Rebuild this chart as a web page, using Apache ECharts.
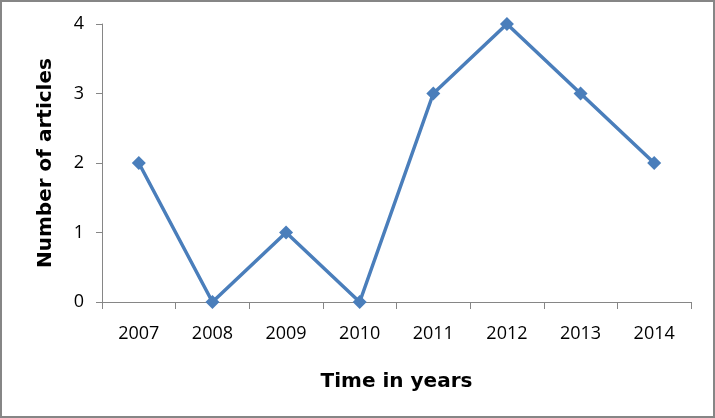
<!DOCTYPE html>
<html><head><meta charset="utf-8">
<script src="https://cdn.jsdelivr.net/npm/echarts@6/dist/echarts.min.js"></script>
<style>html,body{margin:0;padding:0;background:#fff}#c{width:715px;height:418px;box-sizing:border-box;border:2px solid #868686}</style>
</head><body><div id="c"></div>
<script>
const years = ['2007','2008','2009','2010','2011','2012','2013','2014'];
const articles = [2,0,1,0,3,4,3,2];
const yTicks = [0,1,2,3,4];
const chart = echarts.init(document.getElementById('c'));
chart.setOption({
  animation:false,
  grid:{left:100,right:22,top:22,bottom:114},
  xAxis:{type:'category',data:years,boundaryGap:true,
    name:'Time in years',nameLocation:'middle',nameGap:70,
    nameTextStyle:{fontFamily:'DejaVu Sans',fontWeight:'bold',fontSize:20,color:'#000'},
    axisLine:{lineStyle:{color:'#868686',width:1}},
    axisTick:{show:true,length:7,alignWithLabel:false,lineStyle:{color:'#868686'}},
    axisLabel:{fontFamily:'Open Sans',fontSize:18,color:'#000',margin:23}},
  yAxis:{type:'value',min:yTicks[0],max:yTicks[yTicks.length-1],interval:1,
    name:'Number of articles',nameLocation:'middle',nameGap:46,nameRotate:90,
    nameTextStyle:{fontFamily:'DejaVu Sans',fontWeight:'bold',fontSize:20,color:'#000'},
    axisLine:{show:true,lineStyle:{color:'#868686',width:1}},
    axisTick:{show:true,length:6,lineStyle:{color:'#868686'}},
    splitLine:{show:false},
    axisLabel:{fontFamily:'Open Sans',fontSize:18,color:'#000',margin:18}},
  series:[{type:'line',data:articles,symbol:'diamond',symbolSize:14,
    lineStyle:{color:'#4a7ebb',width:3.5},itemStyle:{color:'#4a7ebb'}}]
});
</script></body></html>
